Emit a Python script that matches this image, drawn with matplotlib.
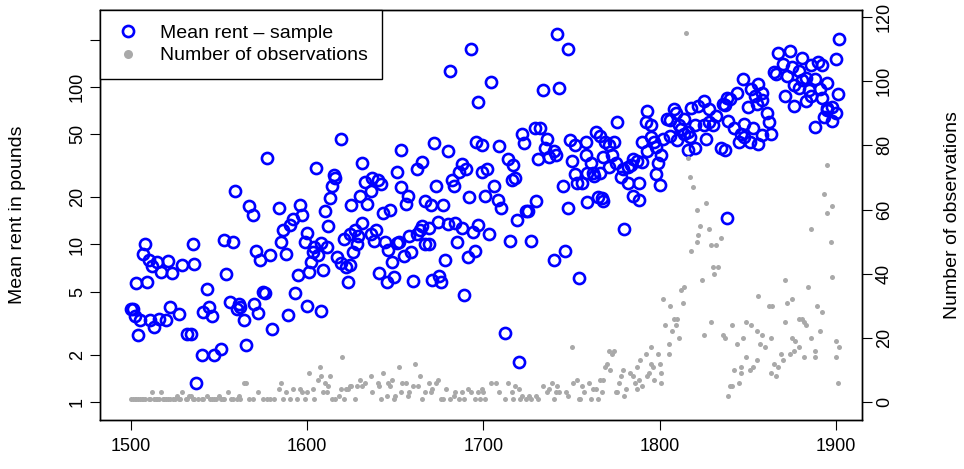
import matplotlib
matplotlib.use("Agg")
import matplotlib.pyplot as plt
from matplotlib.lines import Line2D

plt.rcParams["font.family"] = ["Liberation Sans", "DejaVu Sans"]

# Mean rent per sampled year (pounds)
rent_year = [
    1500, 1501, 1502, 1503, 1504, 1505, 1507, 1508, 1509, 1510, 1511, 1512, 1513, 1515, 1516, 1517,
    1520, 1521, 1522, 1523, 1527, 1529, 1532, 1534, 1535, 1536, 1537, 1540, 1541, 1543, 1544, 1546,
    1547, 1551, 1553, 1554, 1556, 1558, 1559, 1560, 1561, 1562, 1564, 1565, 1567, 1569, 1570, 1571,
    1572, 1573, 1575, 1576, 1577, 1579, 1580, 1584, 1585, 1586, 1588, 1589, 1590, 1592, 1593, 1595,
    1596, 1597, 1599, 1600, 1600, 1601, 1602, 1603, 1604, 1605, 1606, 1608, 1608, 1609, 1610, 1611,
    1612, 1613, 1614, 1615, 1616, 1617, 1619, 1619, 1621, 1622, 1623, 1624, 1624, 1625, 1626, 1627,
    1628, 1629, 1630, 1631, 1631, 1633, 1634, 1636, 1636, 1637, 1638, 1639, 1640, 1641, 1642, 1643,
    1644, 1645, 1646, 1647, 1648, 1649, 1651, 1651, 1652, 1653, 1653, 1655, 1656, 1657, 1658, 1659,
    1660, 1662, 1662, 1664, 1665, 1665, 1667, 1667, 1669, 1669, 1670, 1671, 1672, 1673, 1674, 1675,
    1676, 1677, 1678, 1680, 1680, 1681, 1682, 1683, 1684, 1685, 1686, 1688, 1688, 1689, 1690, 1691,
    1692, 1693, 1694, 1695, 1696, 1697, 1697, 1699, 1699, 1701, 1702, 1703, 1704, 1706, 1708, 1709,
    1710, 1712, 1714, 1715, 1716, 1717, 1718, 1719, 1720, 1722, 1723, 1724, 1725, 1727, 1729, 1730,
    1731, 1732, 1734, 1735, 1736, 1737, 1740, 1740, 1741, 1742, 1743, 1745, 1746, 1748, 1748, 1749,
    1750, 1752, 1752, 1753, 1754, 1756, 1758, 1758, 1759, 1759, 1761, 1762, 1763, 1764, 1765, 1766,
    1766, 1767, 1768, 1768, 1769, 1771, 1771, 1773, 1774, 1775, 1776, 1778, 1779, 1780, 1782, 1782,
    1784, 1785, 1785, 1787, 1788, 1788, 1790, 1790, 1792, 1793, 1793, 1795, 1795, 1797, 1798, 1798,
    1799, 1800, 1801, 1802, 1804, 1806, 1806, 1808, 1809, 1810, 1811, 1812, 1814, 1814, 1816, 1816,
    1817, 1818, 1820, 1820, 1822, 1825, 1825, 1826, 1828, 1828, 1830, 1832, 1835, 1836, 1837, 1837,
    1838, 1838, 1839, 1840, 1842, 1844, 1845, 1846, 1847, 1848, 1848, 1850, 1851, 1852, 1853, 1854,
    1855, 1856, 1856, 1858, 1858, 1858, 1861, 1862, 1863, 1865, 1866, 1867, 1870, 1871, 1872, 1874,
    1875, 1876, 1876, 1879, 1879, 1881, 1881, 1883, 1883, 1885, 1886, 1886, 1888, 1888, 1890, 1891,
    1892, 1892, 1893, 1895, 1895, 1895, 1898, 1898, 1900, 1900, 1901, 1902,
]
rent_mean = [
    3.9, 3.9, 3.5, 5.7, 2.65, 3.3, 8.7, 10, 5.8, 8.0, 3.3, 7.3, 3.0, 7.7, 3.35, 6.7,
    3.3, 7.9, 4.0, 6.6, 3.6, 7.4, 2.7, 2.7, 10.1, 7.5, 1.33, 2.0, 3.75, 5.2, 4.0, 3.5,
    2.0, 2.17, 10.7, 6.45, 4.3, 10.3, 22, 3.9, 4.2, 4.0, 3.3, 2.3, 17.6, 15.4, 4.2, 9.1,
    3.7, 8.0, 5.0, 4.9, 35.6, 8.6, 2.9, 17, 10.4, 12.3, 8.7, 3.55, 13.3, 14.5, 4.9, 6.4,
    17.8, 15.5, 10.4, 11.9, 4.06, 6.7, 7.7, 8.9, 9.7, 30.8, 8.6, 10.2, 3.8, 6.9, 16.2, 9.6,
    13.1, 19.6, 23.6, 27.6, 26.4, 8.3, 47, 7.6, 10.8, 7.2, 5.8, 11.7, 7.4, 17.7, 8.9, 12.3,
    10.0, 11.4, 20.4, 33, 13.6, 25, 18.1, 21.7, 11.7, 26.5, 10.6, 12.3, 25.5, 6.55, 24.3, 15.8,
    10.3, 5.8, 9.2, 16.6, 7.7, 6.2, 29, 10.2, 10.3, 40, 23.3, 8.5, 18.1, 20.4, 11.3, 8.9,
    5.9, 30, 11.7, 12.3, 33.5, 13.2, 19, 10.0, 12.8, 10.1, 17.8, 5.95, 44, 23.6, 13.8, 6.3,
    5.8, 17.8, 8.0, 39, 13.5, 127, 25.5, 23.5, 13.6, 10.4, 29, 32.5, 12.8, 4.8, 30, 8.3,
    19.9, 173, 12.0, 9.1, 45, 80, 13.3, 43, 29, 20.3, 30, 11.7, 107, 23.6, 19.3, 42,
    17.1, 2.73, 35, 10.5, 25.5, 32, 26.5, 14.4, 1.79, 50, 44, 16.3, 16.2, 10.6, 55, 19,
    35, 55, 95, 41, 47, 36, 39, 8.0, 37, 217, 99, 23.6, 9.1, 175, 17, 46,
    34, 43, 28, 24.6, 6.1, 24.6, 45, 37, 28.3, 18.6, 33, 28.3, 27.4, 52, 19.9, 49,
    28.5, 19.6, 36, 19, 44.5, 43, 31, 37, 44.5, 33, 60, 27, 30, 12.5, 31, 24.6,
    32, 34.7, 20.3, 34, 24.6, 19.2, 44.5, 33.5, 60, 70.5, 39, 57, 48, 44.5, 41.5, 28,
    33, 24, 37, 47, 63, 62, 49, 72, 68, 46, 57, 54, 63, 50, 52, 40,
    48, 73, 57, 41, 76, 82, 57, 46.5, 72, 60, 57, 65, 41, 78, 77, 40,
    85, 14.7, 61, 84, 55, 91, 45, 50, 112, 58.5, 48, 74.5, 44.5, 97, 55, 88,
    78, 105, 43.5, 92, 83, 49.5, 68, 60, 50, 125, 121, 165, 139, 88, 118, 170,
    134, 103, 76, 126, 99, 153, 110, 114, 81, 96, 137, 88, 112, 56, 143, 97,
    138, 85, 64, 106, 74, 71, 75, 61, 150, 68, 90, 202,
]

# Number of observations per year
obs_year = [
    1500, 1501, 1502, 1503, 1504, 1505, 1506, 1507, 1508, 1510, 1511, 1512, 1513, 1514, 1515, 1516,
    1517, 1518, 1519, 1520, 1521, 1522, 1524, 1525, 1526, 1527, 1528, 1529, 1531, 1532, 1533, 1534,
    1535, 1536, 1538, 1540, 1541, 1543, 1545, 1546, 1547, 1548, 1550, 1551, 1552, 1553, 1555, 1557,
    1558, 1560, 1561,
    1562, 1564, 1565, 1567, 1569, 1572, 1575, 1577, 1579, 1581, 1584, 1585, 1586, 1588, 1590, 1592,
    1594, 1596, 1597, 1599, 1600, 1601, 1603, 1604, 1606, 1607, 1608, 1609, 1610, 1611, 1612, 1613,
    1614, 1616, 1618, 1619, 1620, 1621, 1622, 1623, 1624, 1625,
    1627, 1628, 1630, 1631, 1633, 1636, 1637, 1640, 1641, 1642, 1643, 1645, 1646, 1647, 1648, 1649,
    1650, 1652, 1653, 1654, 1656, 1657, 1658, 1660, 1661, 1663, 1664, 1665, 1667, 1669, 1670, 1671,
    1673, 1674, 1676, 1677, 1679, 1681, 1683, 1684, 1686, 1688, 1689, 1691, 1693, 1695, 1697, 1698,
    1699, 1700,
    1701, 1704, 1707, 1709, 1712, 1714, 1716, 1717, 1718, 1720, 1721, 1722, 1724, 1726, 1727, 1730,
    1731, 1734, 1736, 1737, 1739, 1740, 1741, 1742, 1743, 1747, 1748, 1750, 1751, 1753, 1754, 1755,
    1756, 1757, 1760, 1761, 1762, 1764, 1765, 1766, 1767,
    1768, 1769, 1770, 1771, 1772, 1773, 1774, 1775, 1776, 1777, 1778, 1779, 1780, 1781, 1783, 1785,
    1786, 1787, 1787, 1788, 1789, 1790, 1792, 1793, 1794, 1795, 1795, 1796, 1797, 1799, 1800, 1801,
    1801, 1802, 1803, 1805, 1805, 1806, 1807, 1808, 1809, 1810, 1811, 1812, 1813, 1814, 1815, 1816,
    1817, 1818, 1819, 1821, 1821, 1822, 1823, 1824, 1825, 1826, 1828, 1829, 1829, 1830, 1831, 1832,
    1833, 1835, 1836,
    1837, 1839, 1840, 1841, 1841, 1842, 1844, 1845, 1846, 1846, 1847, 1849, 1849, 1851, 1852, 1853,
    1855, 1855, 1856, 1857, 1858, 1860, 1862, 1863, 1863, 1864, 1865, 1866, 1867, 1869, 1870, 1871,
    1871, 1872, 1874, 1875, 1875, 1876, 1877, 1879, 1879, 1881, 1882, 1882, 1883, 1884, 1886, 1886,
    1888, 1888, 1889, 1891, 1892, 1893, 1895, 1895, 1897, 1898, 1898, 1900, 1900, 1901, 1902,
]
obs_n = [
    1, 1, 1, 1, 1, 1, 1, 1, 1, 1, 1, 3, 1, 1, 1, 1,
    3, 1, 1, 1, 1, 1, 1, 1, 2, 1, 1, 3, 1, 1, 2, 2,
    1, 1, 1, 1, 1, 2, 1, 1, 1, 1, 2, 1, 1, 1, 3, 1,
    1, 1, 2,
    1, 6, 6, 1, 1, 3, 1, 1, 1, 1, 4, 6, 1, 3, 1, 4,
    1, 4, 3, 1, 3, 9, 4, 1, 7, 11, 8, 3, 6, 3, 5, 8,
    1, 1, 2, 4, 14, 1, 4, 4, 5, 5,
    1, 5, 7, 5, 6, 8, 3, 6, 5, 1, 9, 2, 6, 5, 7, 1,
    2, 11, 3, 6, 6, 2, 3, 5, 12, 5, 8, 1, 3, 6, 3, 4,
    6, 7, 1, 1, 4, 1, 2, 3, 1, 3, 1, 4, 3, 1, 3, 1,
    4, 3,
    1, 6, 6, 3, 1, 6, 3, 1, 5, 4, 1, 2, 1, 2, 1, 2,
    1, 5, 3, 4, 6, 1, 3, 5, 3, 3, 2, 17, 6, 7, 1, 1,
    5, 3, 6, 1, 4, 4, 1, 7, 3,
    7, 11, 12, 16, 10, 15, 16, 3, 3, 6, 8, 10, 2, 4, 9, 8,
    6, 11, 4, 7, 13, 5, 15, 8, 9, 17, 12, 11, 7, 15, 12, 9,
    6, 32, 24, 15, 18, 30, 22, 26, 24, 26, 20, 35, 31, 36, 115, 76,
    70, 47, 67, 50, 60, 52, 55, 38, 21, 62, 54, 49, 25, 42, 40, 49,
    42, 51, 21,
    20, 2, 5, 5, 24, 10, 18, 6, 11, 9, 20, 25, 14, 10, 24, 11,
    22, 13, 33, 18, 21, 17, 30, 20, 9, 30, 12, 8, 11, 15, 13, 38,
    25, 31, 15, 32, 20, 16, 19, 26, 17, 26, 25, 14, 24, 36, 54, 20,
    14, 16, 30, 22, 28, 65, 74, 59, 50, 61, 39, 19, 14, 6, 17,
]

fig = plt.figure(figsize=(9.64, 4.69), dpi=100)
ax = fig.add_axes([100 / 964, 49 / 469, 762 / 964, 410 / 469])

ax.plot(rent_year, rent_mean, "o", mfc="none", mec="#0000ff", mew=1.9, ms=8, zorder=3)
ax.set_yscale("log")
ax.set_xlim(1482.4, 1914.8)
ax.set_ylim(0.769, 308)
ax.set_xticks([1500, 1600, 1700, 1800, 1900])
ax.set_yticks([1, 2, 5, 10, 20, 50, 100, 200])
ax.set_yticklabels(["1", "2", "5", "10", "20", "50", "100", ""])
ax.minorticks_off()
ax.tick_params(axis="y", labelrotation=90, length=7, labelsize=13, pad=3)
ax.tick_params(axis="x", length=7, labelsize=13, pad=6)
for lab in ax.get_yticklabels():
    lab.set_va("center")
ax.set_ylabel("Mean rent in pounds", fontsize=14)
ax.yaxis.set_label_coords(-0.097, 0.5)

ax2 = ax.twinx()
ax2.plot(obs_year, obs_n, "o", color="#a9a9a9", ms=3.6, mew=0, zorder=2)
ax2.set_ylim(-5.6, 122.2)
ax2.set_yticks([0, 20, 40, 60, 80, 100, 120])
ax2.tick_params(axis="y", labelrotation=90, length=7, labelsize=13, pad=3)
for lab in ax2.get_yticklabels():
    lab.set_va("center")
ax2.set_ylabel("Number of observations", fontsize=14)
ax2.yaxis.set_label_coords(1.1076, 0.5)

for a in (ax, ax2):
    for s in a.spines.values():
        s.set_linewidth(1.0)

handles = [
    Line2D([], [], ls="none", marker="o", mfc="none", mec="#0000ff", mew=1.9, ms=8),
    Line2D([], [], ls="none", marker="o", color="#a9a9a9", mew=0, ms=6.5),
]
leg = ax2.legend(handles, ["Mean rent \u2013 sample", "Number of observations"],
                 loc="upper left", bbox_to_anchor=(0, 1), fontsize=14, frameon=True,
                 fancybox=False, edgecolor="black", framealpha=1, borderaxespad=0,
                 handletextpad=0.95, borderpad=0.74, labelspacing=0.25, handlelength=1.4)
leg.get_frame().set_linewidth(1.0)

fig.savefig("out.png", dpi=100)
